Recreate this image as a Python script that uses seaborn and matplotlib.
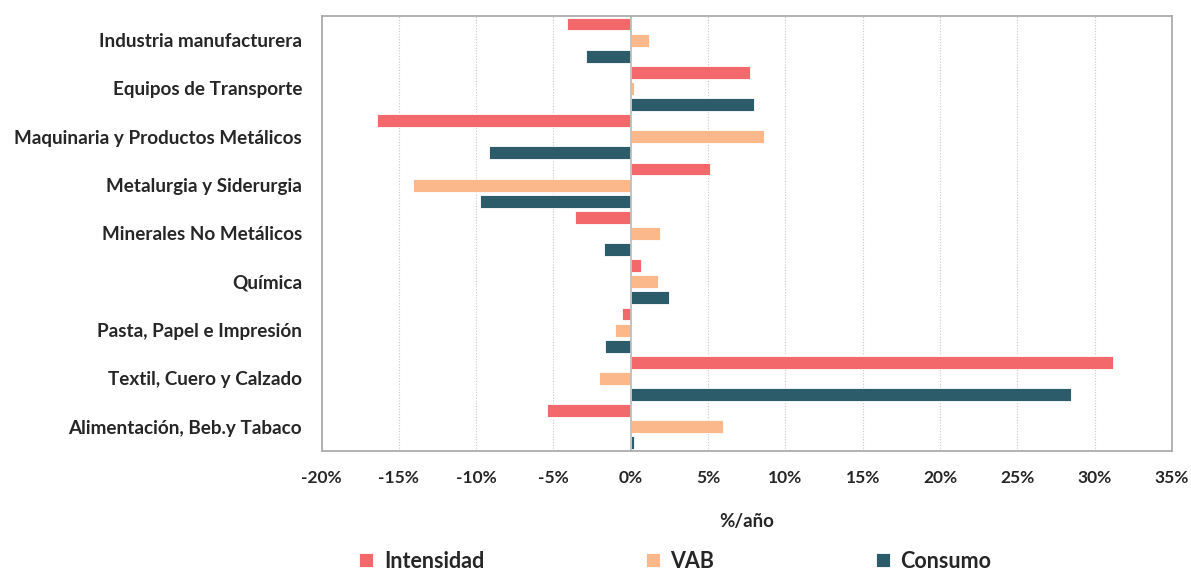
import pandas as pd
import matplotlib
matplotlib.use("Agg")
import matplotlib.pyplot as plt
import seaborn as sns
from matplotlib.ticker import FuncFormatter

# datos (%/año)
sectores = [
    "Industria manufacturera",
    "Equipos de Transporte",
    "Maquinaria y Productos Metálicos",
    "Metalurgia y Siderurgia",
    "Minerales No Metálicos",
    "Química",
    "Pasta, Papel e Impresión",
    "Textil, Cuero y Calzado",
    "Alimentación, Beb.y Tabaco",
]
intensidad = [-4.1, 7.7, -16.4, 5.15, -3.6, 0.65, -0.6, 31.2, -5.4]
vab = [1.2, 0.2, 8.6, -14.1, 1.9, 1.75, -1.05, -2.05, 5.95]
consumo = [-2.9, 7.95, -9.2, -9.75, -1.75, 2.45, -1.7, 28.5, 0.2]

series = ["Intensidad", "VAB", "Consumo"]
colores = ["#F2686B", "#FBB98B", "#2C5B6A"]

df = pd.DataFrame({"sector": sectores, "Intensidad": intensidad,
                   "VAB": vab, "Consumo": consumo})
df = df.melt(id_vars="sector", var_name="serie", value_name="valor")

sns.set_style("white")
plt.rcParams['font.family'] = ['Lato', 'DejaVu Sans']

fig, ax = plt.subplots(figsize=(11.91, 5.70), dpi=100)
fig.subplots_adjust(left=0.270, right=0.984, top=0.972, bottom=0.209)

sns.barplot(data=df, y="sector", x="valor", hue="serie", order=sectores,
            hue_order=series, palette=colores, orient="h", width=1.0, gap=0.2,
            ax=ax, edgecolor="white", linewidth=0.6, saturation=1)

ax.set_xlim(-20, 35)
ax.set_xticks(range(-20, 36, 5))
ax.xaxis.set_major_formatter(FuncFormatter(lambda v, p: f"{int(v)}%"))
ax.grid(axis="x", color="#C8C8C8", linestyle=(0, (1, 1.5)), linewidth=0.8)
ax.set_axisbelow(True)
ax.axvline(0, color="#BFBFBF", linewidth=1.3, zorder=1)

for s in ax.spines.values():
    s.set_color("#A6A6A6")
    s.set_linewidth(1.2)

ax.tick_params(axis="both", length=0)
ax.tick_params(axis="x", pad=14)
ax.tick_params(axis="y", pad=14)
for t in ax.get_xticklabels():
    t.set_fontsize(12.5)
    t.set_fontweight("bold")
    t.set_color("#262626")
for t in ax.get_yticklabels():
    t.set_fontsize(13.6)
    t.set_fontweight("bold")
    t.set_color("#262626")

ax.set_ylabel("")
ax.set_xlabel("%/año", fontsize=13.5, fontweight="bold", color="#262626", labelpad=19)

handles, labels = ax.get_legend_handles_labels()
ax.get_legend().remove()
fig.legend(handles, labels, loc="lower center", bbox_to_anchor=(0.567, -0.037),
           ncol=3, frameon=False, handlelength=0.65, handleheight=0.65,
           handletextpad=0.5, columnspacing=7.5,
           prop={"size": 15.5, "weight": "bold"}, labelcolor="#262626")

fig.savefig("out.png", dpi=100)
